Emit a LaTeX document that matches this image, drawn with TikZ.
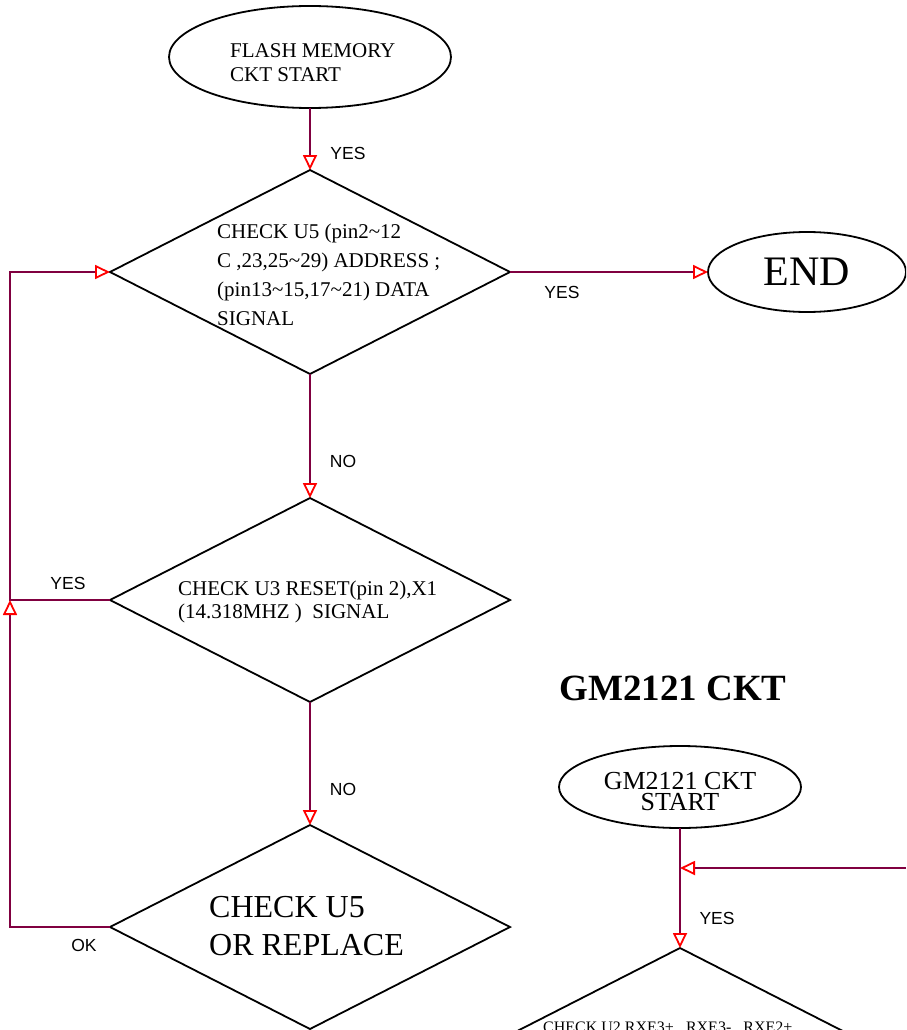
\documentclass[tikz,border=0pt]{standalone}
\usepackage{fontspec}
\setmainfont{Liberation Serif}
\newfontfamily\labelfont{Liberation Sans}
\usetikzlibrary{shapes.geometric,arrows.meta}
\definecolor{wirecol}{RGB}{128,0,64}
\begin{document}
\begin{tikzpicture}[x=1pt,y=-1pt,
  box/.style={draw=black,line width=1.8pt},
  dia/.style={box,diamond,minimum width=400pt,minimum height=204pt,inner sep=0pt,outer sep=0pt},
  oval/.style={box,ellipse,inner sep=0pt,outer sep=0pt},
  conn/.style={draw=wirecol,line width=2pt,-{Triangle[open,length=15pt,width=14pt,color=red,line width=1.8pt]}},
  lbl/.style={font=\labelfont\fontsize{17.5}{20}\selectfont,inner sep=0pt},
  txt/.style={inner sep=0pt,align=left,anchor=base west}]
\useasboundingbox (0,0) rectangle (906,1030);
\clip (0,0) rectangle (906,1030);
% nodes
\node[oval,minimum width=282pt,minimum height=102pt] (s1) at (310,57) {};
\node[txt,font=\fontsize{21}{24.5}\selectfont] (s1t) at (230,82) {FLASH MEMORY\\CKT START};
\node[dia] (d1) at (310,272) {};
\node[txt,font=\fontsize{21}{29}\selectfont] (d1t) at (217,325) {CHECK U5 (pin2\textasciitilde 12\\C ,23,25\textasciitilde 29) ADDRESS ;\\(pin13\textasciitilde 15,17\textasciitilde 21) DATA\\SIGNAL};
\node[oval,minimum width=198pt,minimum height=80pt,font=\fontsize{42}{48}\selectfont] (end) at (807,272) {END};
\node[dia] (d2) at (310,600) {};
\node[txt,font=\fontsize{21}{23}\selectfont] (d2t) at (178,618) {CHECK U3 RESET(pin 2),X1\\(14.318MHZ )\ \ SIGNAL};
\node[dia] (d3) at (310,927) {};
\node[txt,font=\fontsize{32}{38}\selectfont] (d3t) at (209,955) {CHECK U5\\OR REPLACE};
\node[font=\bfseries\fontsize{37}{40}\selectfont,anchor=base,inner sep=0pt] (title) at (673,700) {GM2121 CKT};
\node[oval,minimum width=242pt,minimum height=82pt] (s2) at (680,787) {};
\node[inner sep=0pt,align=center,anchor=base,font=\fontsize{26}{20.5}\selectfont] (s2t) at (680,810) {GM2121 CKT\\START};
\node[dia] (d4) at (680,1050) {};
\node[txt,font=\fontsize{16}{19}\selectfont] (d4t) at (543,1032) {CHECK U2 RXE3+,\ \ RXE3-,\ \ RXE2+};
% junctions
\coordinate (j1) at (10,272);
\coordinate (j2) at (10,600);
\coordinate (j3) at (10,927);
\coordinate (rin) at (906,868);
\coordinate (rjoin) at (680,868);
% connectors
\draw[conn] (s1.south) -- (d1.north);
\draw[conn] (d1.east) -- (end.west);
\draw[conn] (d1.south) -- (d2.north);
\draw[conn] (d2.south) -- (d3.north);
\draw[conn] (d2.west) -- (j2) -- (j1) -- (d1.west);
\draw[conn] (d3.west) -- (j3) -- (j2);
\draw[conn] (s2.south) -- (d4.north);
\draw[conn] (rin) -- (rjoin);
% labels
\node[lbl] (y1) at (348,153) {YES};
\node[lbl] (y2) at (562,292) {YES};
\node[lbl] (n1) at (343,461) {NO};
\node[lbl] (y3) at (68,583) {YES};
\node[lbl] (n2) at (343,789) {NO};
\node[lbl] (ok) at (84,945) {OK};
\node[lbl] (y4) at (717,918) {YES};
\end{tikzpicture}
\end{document}
